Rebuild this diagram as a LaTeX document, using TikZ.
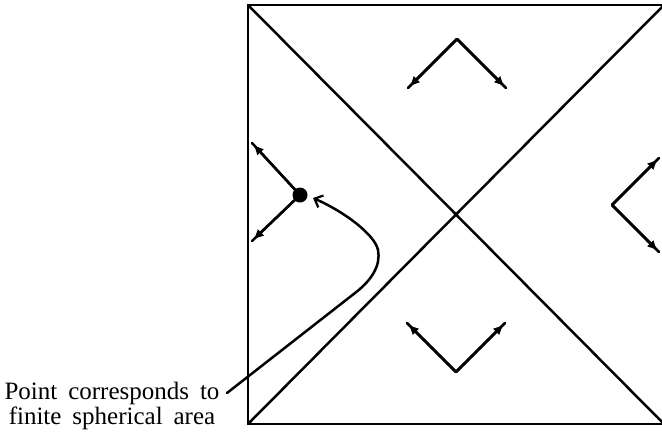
\documentclass[tikz,border=0pt]{standalone}
\usepackage{fontspec}
\setmainfont{Liberation Serif}[WordSpace=1.75]
\usetikzlibrary{arrows.meta,calc}
\tikzset{
  ln/.style={line width=2.5pt, line cap=round, line join=miter},
  tipped/.style={line width=2.5pt, -{Triangle[length=9pt,width=8pt]}},
  lbl/.style={font=\fontsize{25}{25.5}\selectfont, align=center, inner sep=0pt},
}
\newcommand{\armdraw}[2]{%
  \draw[ln] (#1) -- (#2);
  \draw[tipped] (#1) -- ($(#1)!0.95!(#2)$);
}
\begin{document}
\begin{tikzpicture}[x=1pt,y=-1pt]
\useasboundingbox (0,0) rectangle (662,432);
% square corners
\coordinate (tl) at (248,5);
\coordinate (tr) at (664,5);
\coordinate (br) at (664,424);
\coordinate (bl) at (248,424);
\draw[ln] (tl) -- (tr) -- (br) -- (bl) -- cycle;
\draw[ln] (tl) -- (br);
\draw[ln] (bl) -- (tr);
% top wedge
\coordinate (ta) at (457,39);
\coordinate (tl1) at (408,88);
\coordinate (tr1) at (506,88);
\armdraw{ta}{tl1}
\armdraw{ta}{tr1}
% bottom wedge
\coordinate (ba) at (456,372);
\coordinate (bl1) at (407,323);
\coordinate (br1) at (505,323);
\armdraw{ba}{bl1}
\armdraw{ba}{br1}
% right wedge
\coordinate (ra) at (612,205);
\coordinate (ru) at (659,158);
\coordinate (rd) at (659,252);
\armdraw{ra}{ru}
\armdraw{ra}{rd}
% left wedge
\node[circle, fill=black, inner sep=0pt, minimum size=15pt] (dot) at (300,195) {};
\coordinate (lu) at (252,143);
\coordinate (ld) at (252,241);
\armdraw{dot.center}{lu}
\armdraw{dot.center}{ld}
% label and curve
\node[lbl] (label) at (112,406) {Point corresponds to\\finite spherical area};
\coordinate (cstart) at (227,393);
\coordinate (cend) at (313,198);
\draw[ln, -{Straight Barb[length=7pt,width=13pt,line width=2.2pt]}]
  (cstart) -- (355,293) .. controls (372,280) and (381,265) .. (378,250)
  .. controls (375,235) and (345,212) .. (cend);
\end{tikzpicture}
\end{document}
